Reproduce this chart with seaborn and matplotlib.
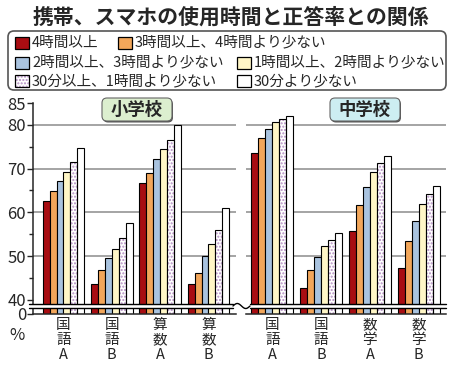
import numpy as np
import pandas as pd
import seaborn as sns
import matplotlib.pyplot as plt
import matplotlib.transforms as mtransforms
from matplotlib.patches import Rectangle, FancyBboxPatch
from matplotlib.lines import Line2D

# --- data ---
title = '携帯、スマホの使用時間と正答率との関係'
time_labels = ['4時間以上', '3時間以上、4時間より少ない', '2時間以上、3時間より少ない',
               '1時間以上、2時間より少ない', '30分以上、1時間より少ない', '30分より少ない']
colors = ['#a80d12', '#f2a65a', '#a9c3df', '#fff6c6', '#ffffff', '#ffffff']

es_subjects = ['国\n語\nA', '国\n語\nB', '算\n数\nA', '算\n数\nB']
jh_subjects = ['国\n語\nA', '国\n語\nB', '数\n学\nA', '数\n学\nB']

es_kokugo_a = [62.7, 64.8, 67.2, 69.3, 71.4, 74.7]
es_kokugo_b = [43.7, 46.8, 49.5, 51.6, 54.2, 57.6]
es_sansu_a = [66.6, 69.1, 72.1, 74.5, 76.6, 80.0]
es_sansu_b = [43.7, 46.2, 49.9, 52.8, 55.9, 60.9]

jh_kokugo_a = [73.6, 77.0, 79.1, 80.6, 81.3, 82.1]
jh_kokugo_b = [42.6, 46.7, 49.8, 52.2, 53.7, 55.3]
jh_sugaku_a = [55.7, 61.7, 65.8, 69.3, 71.3, 72.9]
jh_sugaku_b = [47.3, 53.5, 58.0, 61.9, 64.3, 66.0]

y_ticks = [40, 50, 60, 70, 80, 85]
minor_ticks = [45, 55, 65, 75]
grid_vals = [50, 60, 70, 80]
y_bottom, y_top = 36.75, 85.0

DOT_COLOR = '#b48cc4'


def make_frame(subjects, series):
    rows = []
    for subj, vals in zip(subjects, series):
        for t, v in zip(time_labels, vals):
            rows.append({'subject': subj, 'time': t, 'rate': v})
    return pd.DataFrame(rows)


es_df = make_frame(es_subjects, [es_kokugo_a, es_kokugo_b, es_sansu_a, es_sansu_b])
jh_df = make_frame(jh_subjects, [jh_kokugo_a, jh_kokugo_b, jh_sugaku_a, jh_sugaku_b])

sns.set_style('ticks')
plt.rcParams['font.family'] = ['Noto Sans CJK JP', 'DejaVu Sans']
plt.rcParams['hatch.linewidth'] = 1.0

W, H = 450, 368
fig = plt.figure(figsize=(W / 100, H / 100), dpi=100)
# pixel coordinates, y pointing down
px = mtransforms.Affine2D().scale(1 / W, -1 / H).translate(0, 1) + fig.transFigure

ax1 = fig.add_axes([33 / W, 1 - 314 / H, (236 - 33) / W, (314 - 103) / H])
ax2 = fig.add_axes([246 / W, 1 - 314 / H, (446 - 246) / W, (314 - 103) / H])


def draw_panel(ax, df, xlim):
    sns.barplot(data=df, x='subject', y='rate', hue='time', hue_order=time_labels,
                palette=colors, saturation=1, width=0.86, edgecolor='black',
                linewidth=0.8, legend=False, ax=ax, zorder=2)
    # dotted series
    for bar in ax.containers[4]:
        bar.set_edgecolor(DOT_COLOR)
        bar.set_hatch('.....')
        bar.set_linewidth(0)
        ax.add_patch(Rectangle(bar.get_xy(), bar.get_width(), bar.get_height(),
                               fill=False, ec='black', lw=0.8, zorder=3))
    for v in grid_vals:
        ax.axhline(v, color='#8c8c8c', lw=1.1, zorder=0)
    ax.set_ylim(y_bottom, y_top)
    ax.set_xlim(*xlim)
    ax.set_xlabel('')
    ax.set_ylabel('')
    ax.tick_params(axis='x', length=0, pad=3, labelsize=10.5)
    for lab in ax.get_xticklabels():
        lab.set_linespacing(1.08)
    ax.spines[['top', 'right']].set_visible(False)
    for s in ax.spines.values():
        s.set_linewidth(1.1)


draw_panel(ax1, es_df, (-0.63, 3.57))
draw_panel(ax2, jh_df, (-0.54, 3.56))

ax1.set_yticks([y_bottom] + y_ticks, ['0'] + [str(v) for v in y_ticks])
ax1.set_yticks(minor_ticks, minor=True)
ax1.tick_params(axis='y', which='major', length=4, width=1, labelsize=12, pad=1)
ax1.tick_params(axis='y', which='minor', length=3, width=1)

ax2.spines['left'].set_visible(False)
ax2.set_yticks([])
ax2.set_yticks([], minor=True)

# axis break band
fig.add_artist(Rectangle((29, 304), 446 - 29, 4, transform=px, fc='white', ec='none', zorder=5))
for yb in (304, 308):
    fig.add_artist(Line2D([29, 233], [yb, yb], transform=px, color='black', lw=1, zorder=6))
    fig.add_artist(Line2D([250, 446], [yb, yb], transform=px, color='black', lw=1, zorder=6))
t = np.linspace(0, 1, 40)
fig.add_artist(Line2D(233 + 17 * t, 306 - 2.5 * np.sin(2 * np.pi * t),
                      transform=px, color='black', lw=1, zorder=6))

# title
fig.text(231, 17, title, transform=px, ha='center', va='center',
         fontsize=15, fontweight='bold')

# legend box
fig.add_artist(FancyBboxPatch((8, 31), 438, 59, boxstyle='round,pad=0,rounding_size=6',
                              transform=px, fc='white', ec='#555555', lw=1.2))
legend_pos = [(15, 42.5), (118, 42.5), (15, 62.5), (237, 62.5), (15, 81), (237, 81)]
for (lx, ly), lab, col in zip(legend_pos, time_labels, colors):
    if lab == time_labels[4]:
        fig.add_artist(Rectangle((lx, ly - 6), 14, 12, transform=px, fc='white',
                                 ec=DOT_COLOR, lw=0, hatch='.....'))
        fig.add_artist(Rectangle((lx, ly - 6), 14, 12, transform=px, fill=False,
                                 ec='black', lw=0.9))
    else:
        fig.add_artist(Rectangle((lx, ly - 6), 14, 12, transform=px, fc=col,
                                 ec='black', lw=0.9))
    fig.text(lx + 17, ly, lab, transform=px, ha='left', va='center', fontsize=10.5)

# school labels
for cx, name, fc in [(137, '小学校', '#dcefcf'), (365, '中学校', '#cdeef2')]:
    fig.add_artist(FancyBboxPatch((cx - 34, 99.5), 70, 23, boxstyle='round,pad=0,rounding_size=5',
                                  transform=px, fc='#555555', ec='none', zorder=7))
    fig.add_artist(FancyBboxPatch((cx - 35, 98), 70, 23, boxstyle='round,pad=0,rounding_size=5',
                                  transform=px, fc=fc, ec='#666666', lw=0.8, zorder=8))
    fig.text(cx, 109.5, name, transform=px, ha='center', va='center', fontsize=12.5,
             fontweight='bold', zorder=9)

fig.text(17, 336, '%', transform=px, ha='center', va='center', fontsize=12)

fig.savefig('out.png', dpi=100)
